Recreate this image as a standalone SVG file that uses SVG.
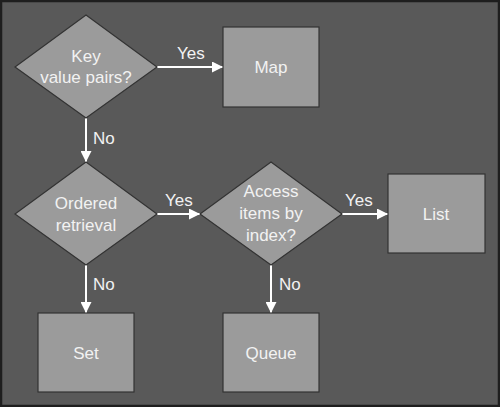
<svg xmlns="http://www.w3.org/2000/svg" width="500" height="407" viewBox="0 0 500 407">
<defs>
<style>
.shape{fill:#9b9b9b;stroke:#333;stroke-width:1.2}
.t{font-family:"Liberation Sans",Arial,sans-serif;font-size:17px;fill:#f2f2f2;text-anchor:middle}
.l{font-family:"Liberation Sans",Arial,sans-serif;font-size:17px;fill:#f2f2f2}
.c{stroke:#fff;stroke-width:2;fill:none}
</style>
<marker id="ah" markerWidth="11" markerHeight="11" refX="11" refY="5.5" orient="auto" markerUnits="userSpaceOnUse">
<path d="M0,0 L11,5.5 L0,11 Z" fill="#fff"/>
</marker>
</defs>
<rect x="1" y="1" width="498" height="405" fill="#595959" stroke="#1e1e1e" stroke-width="2.5"/>
<g id="connectors">
<line class="c" x1="157" y1="67" x2="223" y2="67" marker-end="url(#ah)"/>
<line class="c" x1="86" y1="118" x2="86" y2="162" marker-end="url(#ah)"/>
<line class="c" x1="157" y1="214" x2="200" y2="214" marker-end="url(#ah)"/>
<line class="c" x1="342" y1="214" x2="388" y2="214" marker-end="url(#ah)"/>
<line class="c" x1="86" y1="265" x2="86" y2="313" marker-end="url(#ah)"/>
<line class="c" x1="271" y1="265" x2="271" y2="313" marker-end="url(#ah)"/>
<text class="l" x="177" y="59">Yes</text>
<text class="l" x="93" y="144">No</text>
<text class="l" x="165" y="206">Yes</text>
<text class="l" x="345" y="206">Yes</text>
<text class="l" x="93" y="290">No</text>
<text class="l" x="279" y="290">No</text>
</g>
<g id="keyValue">
<polygon class="shape" points="86,15 157,67 86,118 15,67"/>
<text class="t" x="86" y="62">Key</text>
<text class="t" x="86" y="83">value pairs?</text>
</g>
<g id="map">
<rect class="shape" x="223" y="27" width="96" height="80"/>
<text class="t" x="271" y="73">Map</text>
</g>
<g id="ordered">
<polygon class="shape" points="86,162 157,214 86,265 15,214"/>
<text class="t" x="86" y="209">Ordered</text>
<text class="t" x="86" y="231">retrieval</text>
</g>
<g id="access">
<polygon class="shape" points="271,162 342,214 271,265 200,214"/>
<text class="t" x="271" y="197">Access</text>
<text class="t" x="271" y="219">items by</text>
<text class="t" x="271" y="241">index?</text>
</g>
<g id="list">
<rect class="shape" x="388" y="174" width="97" height="79"/>
<text class="t" x="436" y="220">List</text>
</g>
<g id="set">
<rect class="shape" x="38" y="313" width="96" height="79"/>
<text class="t" x="86" y="359">Set</text>
</g>
<g id="queue">
<rect class="shape" x="223" y="313" width="96" height="79"/>
<text class="t" x="271" y="359">Queue</text>
</g>
</svg>
